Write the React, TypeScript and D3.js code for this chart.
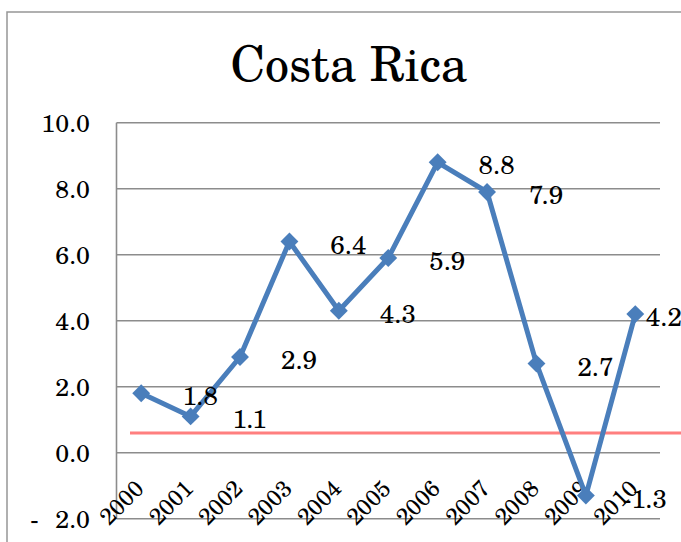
import React from "react";
import * as d3 from "d3";

const years = ["2000","2001","2002","2003","2004","2005","2006","2007","2008","2009","2010"];
const values = [1.8, 1.1, 2.9, 6.4, 4.3, 5.9, 8.8, 7.9, 2.7, -1.3, 4.2];
const yTicks = [-2, 0, 2, 4, 6, 8, 10];
const refValue = 0.6;
const title = "Costa Rica";

const W = 681, H = 542;
const plotL = 116.5, plotR = 660, plotT = 122.7, plotB = 518.7;
const serif = '"TeX Gyre Schola", "Century Schoolbook L", "DejaVu Serif", serif';

function fmtTick(v: number) {
  if (v < 0) return "-\u00A0\u00A0" + Math.abs(v).toFixed(1);
  return v.toFixed(1);
}

export default function App() {
  const x = d3.scaleBand<string>().domain(years).range([plotL, plotR]);
  const y = d3.scaleLinear().domain([-2, 10]).range([plotB, plotT]);
  const cx = (i: number) => (x(years[i]) as number) + x.bandwidth() / 2;
  const line = d3.line<number>().x((_, i) => cx(i)).y(d => y(d));
  const diamond = d3.symbol().type(d3.symbolSquare).size(160);
  const txt = { fontFamily: serif, fill: "#000" };

  return (
    <svg width={W} height={H} style={{ position: "absolute", left: 0, top: 0, background: "#fff" }}>
      <rect x={0} y={0} width={W} height={H} fill="#fff" />
      <path d={`M7,${H} L7,12 L${W},12`} fill="none" stroke="#969696" strokeWidth={1.5} />
      <text x={349} y={81} textAnchor="middle" style={{ ...txt, fontSize: 48 }}>{title}</text>
      {yTicks.map(t => (
        <g key={t}>
          <line x1={plotL} x2={plotR} y1={y(t)} y2={y(t)} stroke="#8c8c8c" strokeWidth={1.6} />
          <text x={90} y={y(t)} dy="0.36em" textAnchor="end" style={{ ...txt, fontSize: 25 }}>{fmtTick(t)}</text>
        </g>
      ))}
      <line x1={plotL} x2={plotL} y1={plotT} y2={plotB} stroke="#8c8c8c" strokeWidth={1.6} />
      {years.map((yr, i) => (
        <text key={yr} transform={`translate(${cx(i) + 4},${490}) rotate(-45)`} textAnchor="end" style={{ ...txt, fontSize: 23 }}>{yr}</text>
      ))}
      <line x1={130} x2={W} y1={y(refValue)} y2={y(refValue)} stroke="#FF7F7F" strokeWidth={3} />
      <path d={line(values) as string} fill="none" stroke="#4A7EBB" strokeWidth={5} strokeLinejoin="round" />
      {values.map((v, i) => (
        <path key={i} d={diamond() as string} transform={`translate(${cx(i)},${y(v)}) rotate(45)`} fill="#4A7EBB" />
      ))}
      {values.map((v, i) => {
        const lx = cx(i) + 59;
        const last = lx + 22 > W;
        return (
          <text key={"l" + i} x={last ? W + 1 : lx} y={y(v) + 12} textAnchor={last ? "end" : "middle"} style={{ ...txt, fontSize: 26 }}>{v.toFixed(1)}</text>
        );
      })}
    </svg>
  );
}
